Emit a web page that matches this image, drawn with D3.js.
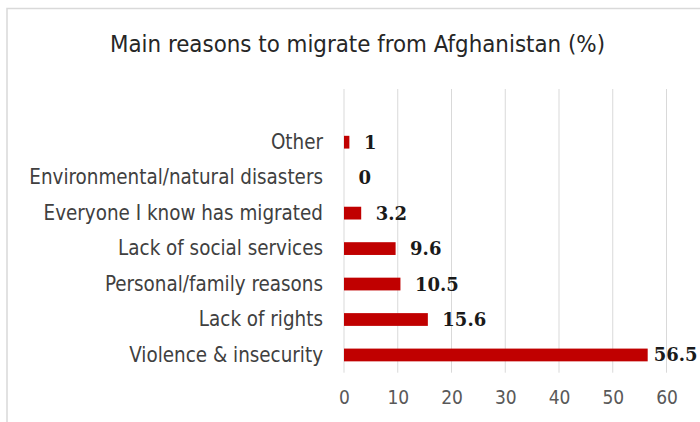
<!DOCTYPE html>
<html>
<head>
<meta charset="utf-8">
<script src="https://cdn.jsdelivr.net/npm/d3@7"></script>
<style>
  html, body { margin: 0; padding: 0; background: #fff; }
  svg { display: block; }
</style>
</head>
<body>
<div id="chart"></div>
<script>
const categories = [
  'Violence & insecurity',
  'Lack of rights',
  'Personal/family reasons',
  'Lack of social services',
  'Everyone I know has migrated',
  'Environmental/natural disasters',
  'Other'
];
const values = [56.5, 15.6, 10.5, 9.6, 3.2, 0, 1];
const xTicks = [0, 10, 20, 30, 40, 50, 60];
const title = 'Main reasons to migrate from Afghanistan (%)';

const SANS = "'DejaVu Sans Condensed', 'DejaVu Sans', sans-serif";
const SERIF = "'DejaVu Serif', serif";

const width = 700, height = 422;
const plot = { left: 344, right: 666.5, top: 89, bottom: 372.7 };

const svg = d3.select('#chart')
  .append('svg')
  .attr('width', width)
  .attr('height', height);

// chart frame
svg.append('rect')
  .attr('x', 7).attr('y', 8.5)
  .attr('width', 720).attr('height', 430)
  .attr('fill', '#fff')
  .attr('stroke', '#d9d9d9')
  .attr('stroke-width', 1.5);

svg.append('text')
  .attr('x', 357.5).attr('y', 52)
  .attr('text-anchor', 'middle')
  .style('font-family', SANS)
  .style('font-size', '23.8px')
  .attr('fill', '#262626')
  .text(title);

const x = d3.scaleLinear().domain([0, 60]).range([plot.left, plot.right]);

// one empty slot sits above "Other" in the plot area
const band = (plot.bottom - plot.top) / (categories.length + 1);
const y = d3.scaleBand()
  .domain(categories)
  .range([plot.bottom, plot.bottom - band * categories.length])
  .paddingInner(0.64)
  .paddingOuter(0.32);

// gridlines
svg.append('g')
  .selectAll('line')
  .data(xTicks)
  .join('line')
  .attr('x1', d => x(d)).attr('x2', d => x(d))
  .attr('y1', plot.top).attr('y2', plot.bottom)
  .attr('stroke', '#d9d9d9')
  .attr('stroke-width', 1);

// x axis labels
const xAxis = svg.append('g')
  .attr('transform', `translate(0,${plot.bottom})`)
  .call(d3.axisBottom(x).tickValues(xTicks).tickSize(0).tickPadding(18));
xAxis.select('.domain').remove();
xAxis.selectAll('text')
  .style('font-family', SANS)
  .style('font-size', '19px')
  .attr('fill', '#595959');

// category labels
const yAxis = svg.append('g')
  .attr('transform', `translate(${plot.left},0)`)
  .call(d3.axisLeft(y).tickSize(0).tickPadding(21));
yAxis.select('.domain').remove();
yAxis.selectAll('text')
  .style('font-family', SANS)
  .style('font-size', '20.4px')
  .attr('fill', '#404040');

const rows = categories.map((c, i) => ({ c, v: values[i] }));

// bars
svg.append('g')
  .selectAll('rect')
  .data(rows)
  .join('rect')
  .attr('x', x(0))
  .attr('y', d => y(d.c))
  .attr('width', d => x(d.v) - x(0))
  .attr('height', y.bandwidth())
  .attr('fill', '#c00000');

// value labels, pulled back inside when they would run off the edge
svg.append('g')
  .selectAll('text')
  .data(rows)
  .join('text')
  .attr('x', d => x(d.v) + 14.5)
  .attr('y', d => y(d.c) + y.bandwidth() / 2)
  .attr('dy', '0.36em')
  .style('font-family', SERIF)
  .style('font-weight', 'bold')
  .style('font-size', '18px')
  .attr('fill', '#1a1a1a')
  .text(d => d.v)
  .each(function () {
    const w = this.getComputedTextLength();
    const x0 = +this.getAttribute('x');
    if (x0 + w > 697.5) this.setAttribute('x', 697.5 - w);
  });
</script>
</body>
</html>
